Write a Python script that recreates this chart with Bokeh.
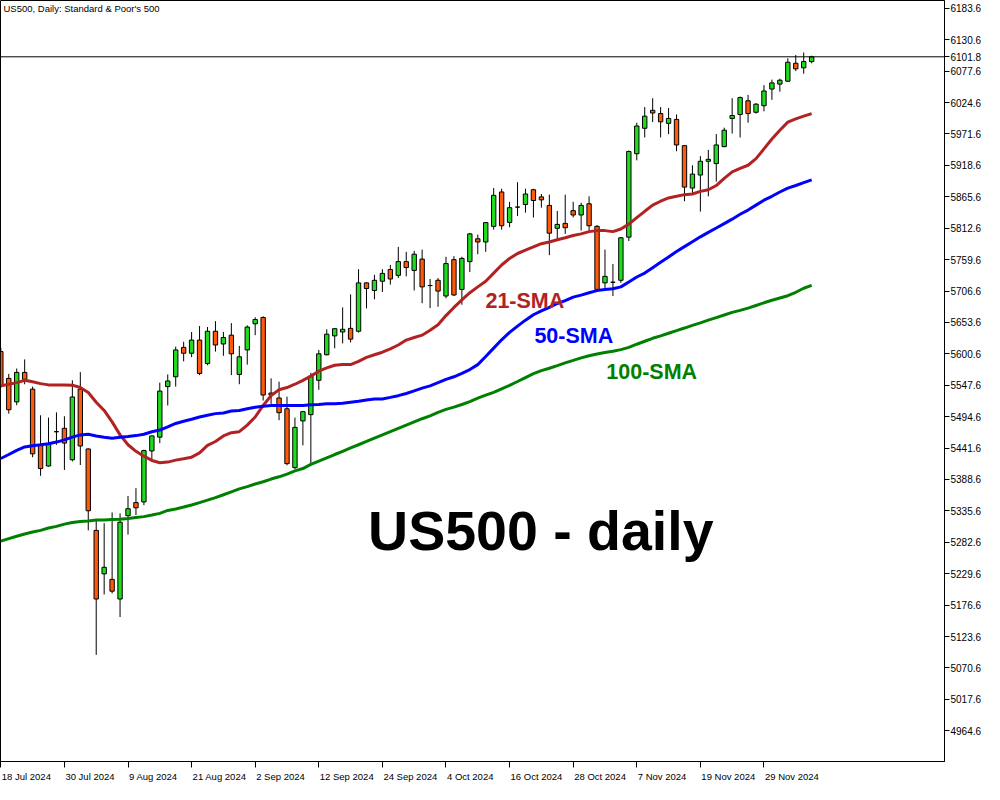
import pandas as pd
from bokeh.plotting import figure
from bokeh.models import ColumnDataSource, FixedTicker, Label, Span, Range1d, NumeralTickFormatter
from bokeh.embed import file_html
from bokeh.resources import INLINE

# ---------------- data ----------------
start_date = "2024-07-18"
end_date = "2024-12-09"

opens = [5604.4, 5559.2, 5519.5, 5569.2, 5541.0, 5447.2, 5411.3, 5469.2, 5474.9, 5421.9,
         5541.0, 5440.1, 5302.7, 5229.3, 5220.0, 5186.9, 5327.6, 5349.6, 5350.7, 5436.8,
         5460.0, 5545.3, 5561.9, 5611.5, 5601.6, 5623.8, 5584.1, 5638.7, 5617.2, 5632.1,
         5565.9, 5607.2, 5651.3, 5661.8, 5534.4, 5526.1, 5507.9, 5408.6, 5487.4, 5498.0,
         5555.9, 5599.0, 5630.9, 5637.5, 5643.6, 5638.7, 5720.3, 5707.5, 5723.1, 5742.9,
         5733.0, 5756.2, 5741.3, 5760.5, 5715.8, 5724.7, 5698.2, 5759.5, 5709.2, 5756.2,
         5794.7, 5789.3, 5815.7, 5873.7, 5822.4, 5848.2, 5852.6, 5877.5, 5865.4, 5851.0,
         5812.4, 5820.7, 5842.2, 5834.9, 5853.8, 5815.7, 5720.3, 5721.4, 5724.7, 5797.5,
         5938.2, 5981.2, 6011.5, 6006.0, 5989.5, 5996.1, 5951.9, 5880.3, 5902.3, 5925.5,
         5921.6, 5950.3, 5997.8, 6004.4, 6027.6, 6008.2, 6019.3, 6047.4, 6055.7, 6060.6,
         6090.9, 6083.2, 6093.7]
highs = [5611.0, 5566.9, 5575.8, 5591.2, 5545.4, 5496.9, 5493.0, 5501.8, 5495.2, 5555.9,
         5569.7, 5441.0, 5318.6, 5314.8, 5333.0, 5331.4, 5360.7, 5373.9, 5438.9, 5462.5,
         5552.0, 5565.9, 5612.7, 5621.0, 5637.5, 5647.4, 5645.8, 5655.7, 5637.5, 5652.4,
         5613.9, 5648.6, 5662.3, 5664.0, 5559.2, 5553.6, 5528.3, 5493.0, 5503.5, 5568.5,
         5607.2, 5642.0, 5643.5, 5678.9, 5700.9, 5743.4, 5721.4, 5734.0, 5743.4, 5750.5,
         5781.0, 5772.7, 5774.4, 5776.5, 5726.9, 5728.5, 5764.4, 5765.4, 5764.4, 5804.6,
         5801.8, 5823.0, 5880.3, 5879.1, 5857.1, 5890.2, 5879.1, 5879.1, 5870.3, 5869.2,
         5841.6, 5869.2, 5857.1, 5855.5, 5866.4, 5817.9, 5776.5, 5752.2, 5797.5, 5943.7,
         5990.5, 6017.0, 6031.9, 6017.0, 6015.3, 6004.4, 5952.5, 5918.8, 5934.2, 5944.8,
         5971.3, 5982.2, 6031.9, 6034.7, 6037.5, 6023.6, 6054.0, 6063.3, 6064.9, 6099.2,
         6104.7, 6109.1, 6103.7]
lows = [5543.2, 5499.7, 5513.9, 5549.3, 5426.2, 5394.8, 5410.3, 5447.2, 5404.7, 5419.1,
        5413.0, 5302.7, 5092.6, 5194.5, 5196.2, 5156.5, 5295.5, 5328.6, 5345.1, 5422.4,
        5450.0, 5513.4, 5545.3, 5587.9, 5595.0, 5564.7, 5581.3, 5604.4, 5597.3, 5564.7,
        5549.3, 5582.4, 5632.1, 5521.7, 5516.2, 5488.6, 5412.5, 5405.8, 5446.1, 5414.1,
        5539.9, 5598.0, 5609.9, 5618.2, 5619.8, 5636.4, 5677.2, 5692.6, 5704.9, 5717.4,
        5728.5, 5731.3, 5707.5, 5686.0, 5677.7, 5680.0, 5694.3, 5698.2, 5683.4, 5738.5,
        5768.7, 5772.7, 5810.1, 5810.1, 5814.1, 5833.3, 5838.9, 5830.6, 5847.2, 5767.1,
        5794.7, 5803.0, 5830.6, 5808.5, 5808.5, 5708.2, 5710.3, 5698.2, 5720.3, 5790.9,
        5927.1, 5965.7, 5991.6, 5965.7, 5971.3, 5942.5, 5858.1, 5872.0, 5840.6, 5866.4,
        5891.2, 5949.1, 5972.3, 5965.7, 5990.5, 6006.0, 6009.8, 6029.2, 6042.9, 6059.5,
        6077.7, 6073.2, 6090.9]
closes = [5546.5, 5506.3, 5569.2, 5557.6, 5431.8, 5407.0, 5448.4, 5469.2, 5450.0, 5527.8,
          5445.1, 5335.8, 5186.9, 5240.4, 5200.1, 5316.5, 5339.2, 5340.8, 5437.3, 5462.1,
          5537.7, 5554.8, 5607.2, 5601.6, 5623.8, 5567.5, 5638.7, 5615.5, 5628.1, 5600.6,
          5595.6, 5645.8, 5658.5, 5531.1, 5531.1, 5501.3, 5415.3, 5476.5, 5503.0, 5563.0,
          5600.6, 5633.7, 5643.0, 5642.0, 5625.4, 5720.3, 5710.8, 5724.7, 5736.3, 5726.9,
          5756.2, 5746.2, 5768.7, 5713.6, 5715.8, 5706.5, 5752.9, 5699.9, 5761.6, 5803.0,
          5789.3, 5822.0, 5868.0, 5816.7, 5847.2, 5848.2, 5870.3, 5859.3, 5860.4, 5804.2,
          5819.0, 5813.4, 5834.9, 5851.0, 5816.7, 5709.2, 5731.3, 5721.4, 5796.4, 5942.0,
          5985.0, 6001.6, 6007.0, 5992.1, 5997.8, 5953.1, 5881.9, 5903.9, 5925.5, 5928.8,
          5953.1, 5977.9, 6002.7, 6033.0, 6006.0, 6021.9, 6044.1, 6057.8, 6062.3, 6092.6,
          6081.5, 6093.7, 6101.8]
sma21 = [5546.5, 5549.3, 5552.0, 5555.9, 5553.6, 5550.3, 5548.2, 5548.2, 5548.2, 5547.7,
         5543.7, 5535.4, 5518.9, 5505.1, 5485.8, 5463.8, 5447.2, 5436.1, 5427.9, 5420.7,
         5416.9, 5417.9, 5421.2, 5423.6, 5426.2, 5433.5, 5446.1, 5452.7, 5462.1, 5467.6,
         5469.2, 5480.3, 5494.0, 5513.4, 5530.0, 5539.9, 5543.7, 5549.3, 5555.9, 5563.0,
         5571.3, 5576.8, 5581.3, 5582.4, 5582.4, 5587.9, 5594.5, 5599.0, 5603.3, 5608.9,
         5615.5, 5623.8, 5628.1, 5632.1, 5640.3, 5649.6, 5665.1, 5678.9, 5691.6, 5703.7,
         5713.6, 5723.1, 5736.8, 5750.5, 5761.6, 5769.9, 5775.4, 5781.0, 5786.4, 5789.3,
         5793.1, 5796.4, 5800.2, 5803.0, 5806.8, 5808.5, 5808.5, 5806.8, 5811.3, 5819.5,
         5830.3, 5841.1, 5851.5, 5858.1, 5863.7, 5866.4, 5869.2, 5870.3, 5874.7, 5877.5,
         5884.6, 5896.8, 5907.7, 5913.4, 5918.8, 5929.9, 5946.5, 5963.0, 5977.9, 5991.6,
         5997.1, 6001.6, 6006.0]
sma50 = [5424.0, 5430.7, 5437.8, 5443.4, 5445.6, 5447.2, 5448.9, 5451.7, 5455.5, 5460.0,
         5463.8, 5464.9, 5462.1, 5460.0, 5458.3, 5460.0, 5461.0, 5462.6, 5464.9, 5469.2,
         5472.0, 5477.5, 5483.1, 5486.9, 5490.2, 5494.0, 5496.9, 5499.7, 5500.7, 5504.0,
         5505.1, 5507.9, 5510.6, 5512.3, 5513.4, 5513.4, 5513.4, 5513.4, 5513.4, 5514.6,
         5515.1, 5516.2, 5516.2, 5517.2, 5518.9, 5520.5, 5522.8, 5524.5, 5524.5, 5527.1,
         5530.0, 5533.7, 5538.2, 5542.7, 5546.5, 5552.0, 5557.6, 5561.9, 5567.5, 5574.1,
         5582.4, 5596.1, 5610.2, 5624.3, 5636.7, 5647.4, 5657.4, 5666.5, 5673.1, 5678.9,
         5685.5, 5690.5, 5696.3, 5699.6, 5703.7, 5707.3, 5709.0, 5710.3, 5713.6, 5721.9,
         5730.2, 5736.8, 5745.9, 5755.0, 5764.1, 5773.2, 5781.5, 5789.8, 5798.0, 5805.5,
         5812.9, 5820.4, 5827.8, 5836.1, 5843.2, 5851.5, 5859.8, 5866.4, 5873.7, 5880.3,
         5884.6, 5889.5, 5894.0]
sma100 = [5284.5, 5288.8, 5292.8, 5296.6, 5299.9, 5302.7, 5306.6, 5309.4, 5313.2, 5316.0,
          5317.6, 5318.6, 5320.3, 5320.3, 5321.0, 5321.4, 5322.6, 5324.3, 5325.9, 5328.6,
          5331.4, 5336.3, 5338.8, 5342.1, 5345.5, 5349.6, 5353.7, 5357.9, 5362.8, 5367.8,
          5372.7, 5376.6, 5381.0, 5384.8, 5389.3, 5393.1, 5397.6, 5403.0, 5407.0, 5414.1,
          5419.6, 5425.2, 5430.7, 5436.1, 5441.8, 5447.2, 5452.7, 5458.3, 5463.8, 5469.2,
          5474.9, 5480.3, 5485.8, 5491.1, 5496.0, 5501.8, 5506.8, 5510.6, 5515.1, 5520.0,
          5525.8, 5530.8, 5535.7, 5541.5, 5547.3, 5553.9, 5560.6, 5567.2, 5572.2, 5576.3,
          5580.8, 5585.4, 5589.5, 5593.7, 5597.3, 5600.3, 5602.8, 5604.9, 5607.7, 5611.5,
          5616.8, 5621.8, 5626.8, 5630.9, 5635.4, 5639.7, 5644.1, 5648.6, 5652.9, 5657.4,
          5661.8, 5666.1, 5670.6, 5673.9, 5677.7, 5682.2, 5686.7, 5691.0, 5694.9, 5698.7,
          5704.5, 5711.2, 5716.1]

price_ticks = [4964.6, 5017.6, 5070.6, 5123.6, 5176.6, 5229.6, 5282.6, 5335.6, 5388.6,
               5441.6, 5494.6, 5547.6, 5600.6, 5653.6, 5706.6, 5759.6, 5812.6, 5865.6,
               5918.6, 5971.6, 6024.6, 6077.6, 6130.6, 6183.6]
date_ticks = ["2024-07-18", "2024-07-30", "2024-08-09", "2024-08-21", "2024-09-02",
              "2024-09-12", "2024-09-24", "2024-10-04", "2024-10-16", "2024-10-28",
              "2024-11-07", "2024-11-19", "2024-11-29"]
last_price = 6101.8
chart_title = "US500, Daily:  Standard & Poor's 500"
big_caption = "US500 - daily"

# ---------------- derived ----------------
dates = pd.bdate_range(start_date, end_date)
n = len(dates)
idx = list(range(n))
date_keys = [d.strftime("%Y-%m-%d") for d in dates]
tick_pos = [date_keys.index(t) for t in date_ticks]
tick_text = [f"{pd.Timestamp(t).day} {pd.Timestamp(t).strftime('%b %Y')}" for t in date_ticks]

FRAME_W, FRAME_H = 944, 761
X0, X1 = -0.04, 118.71
Y0, Y1 = 4912.7, 6196.8
DATE_FS = 9.5

# approximate Liberation Sans advance widths (em) -> used to left-align date labels at ticks
CW = {" ": 0.278, "J": 0.5, "u": 0.556, "l": 0.222, "A": 0.667, "g": 0.556, "S": 0.667,
      "e": 0.556, "p": 0.556, "O": 0.778, "c": 0.5, "t": 0.278, "N": 0.722, "o": 0.556,
      "v": 0.5}
def text_w(s, size):
    return sum(CW.get(ch, 0.556) for ch in s) * size

px_per_bar = FRAME_W / (X1 - X0)
label_centers = [round(pos + (text_w(t, DATE_FS) / 2 + 1.0) / px_per_bar, 4)
                 for pos, t in zip(tick_pos, tick_text)]

UP = "#1fdc1f"
DOWN = "#ff5a0a"
colors = [UP if c >= o else DOWN for o, c in zip(opens, closes)]
src = ColumnDataSource(dict(
    i=idx, o=opens, h=highs, l=lows, c=closes,
    top=[max(o, c) for o, c in zip(opens, closes)],
    bot=[min(o, c) for o, c in zip(opens, closes)],
    color=colors, s21=sma21, s50=sma50, s100=sma100,
))

p = figure(frame_width=FRAME_W, frame_height=FRAME_H,
           x_range=Range1d(X0, X1), y_range=Range1d(Y0, Y1),
           output_backend="svg", toolbar_location=None, y_axis_location="right",
           min_border_left=0, min_border_top=0, min_border_right=40, min_border_bottom=20,
           background_fill_color="white", border_fill_color="white")
p.outline_line_color = "black"
p.outline_line_width = 1
p.xgrid.visible = False
p.ygrid.visible = False

# candles
p.segment(x0="i", y0="l", x1="i", y1="h", line_color="black", line_width=1, source=src)
p.vbar(x="i", top="top", bottom="bot", width=0.55, fill_color="color",
       line_color="black", line_width=1, source=src)

# moving averages
p.line("i", "s21", source=src, line_color="#b22222", line_width=3)
p.line("i", "s50", source=src, line_color="#0000ff", line_width=3)
p.line("i", "s100", source=src, line_color="#008000", line_width=3)

# current price line
p.add_layout(Span(location=last_price, dimension="width", line_color="black", line_width=1))

# right price axis (current price shown as an extra tick label)
ya = p.yaxis[0]
ya.ticker = FixedTicker(ticks=sorted(price_ticks + [last_price]))
ya.formatter = NumeralTickFormatter(format="0.0")
ya.major_tick_in = 0
ya.major_tick_out = 5
ya.minor_tick_line_color = None
ya.axis_line_color = "black"
ya.major_tick_line_color = "black"
ya.major_label_standoff = 1
ya.major_label_text_font = "Liberation Sans"
ya.major_label_text_font_size = "10px"
ya.major_label_text_color = "black"

# bottom date axis: tick marks at the dates (minor), labels start at the tick mark
xa = p.xaxis[0]
xa.ticker = FixedTicker(ticks=label_centers, minor_ticks=tick_pos)
xa.major_label_overrides = {c: t for c, t in zip(label_centers, tick_text)}
xa.major_tick_line_color = None
xa.major_tick_in = 0
xa.major_tick_out = 0
xa.minor_tick_in = 0
xa.minor_tick_out = 6
xa.minor_tick_line_color = "black"
xa.axis_line_color = "black"
xa.major_label_standoff = 3
xa.major_label_text_font = "Liberation Sans"
xa.major_label_text_font_size = f"{DATE_FS}px"
xa.major_label_text_color = "black"

# title
p.add_layout(Label(x=X0, y=Y1, text=chart_title, text_align="left", text_baseline="top",
                   x_offset=3, y_offset=-2, text_font="Liberation Sans",
                   text_font_size="9.5px", text_color="black"))

# annotations
p.add_layout(Label(x=60.96, y=5690.0, text="21-SMA", text_font="Liberation Sans",
                   text_font_style="bold", text_font_size="21.5px", text_color="#b22222",
                   text_baseline="alphabetic"))
p.add_layout(Label(x=67.12, y=5630.9, text="50-SMA", text_font="Liberation Sans",
                   text_font_style="bold", text_font_size="21.5px", text_color="#0000ff",
                   text_baseline="alphabetic"))
p.add_layout(Label(x=76.17, y=5569.7, text="100-SMA", text_font="Liberation Sans",
                   text_font_style="bold", text_font_size="21.5px", text_color="#008000",
                   text_baseline="alphabetic"))
p.add_layout(Label(x=46.2, y=5301.6, text=big_caption, text_font="Liberation Sans",
                   text_font_style="bold", text_font_size="55.5px", text_color="black",
                   text_baseline="alphabetic"))

open("out.html", "w").write(file_html(p, INLINE))
